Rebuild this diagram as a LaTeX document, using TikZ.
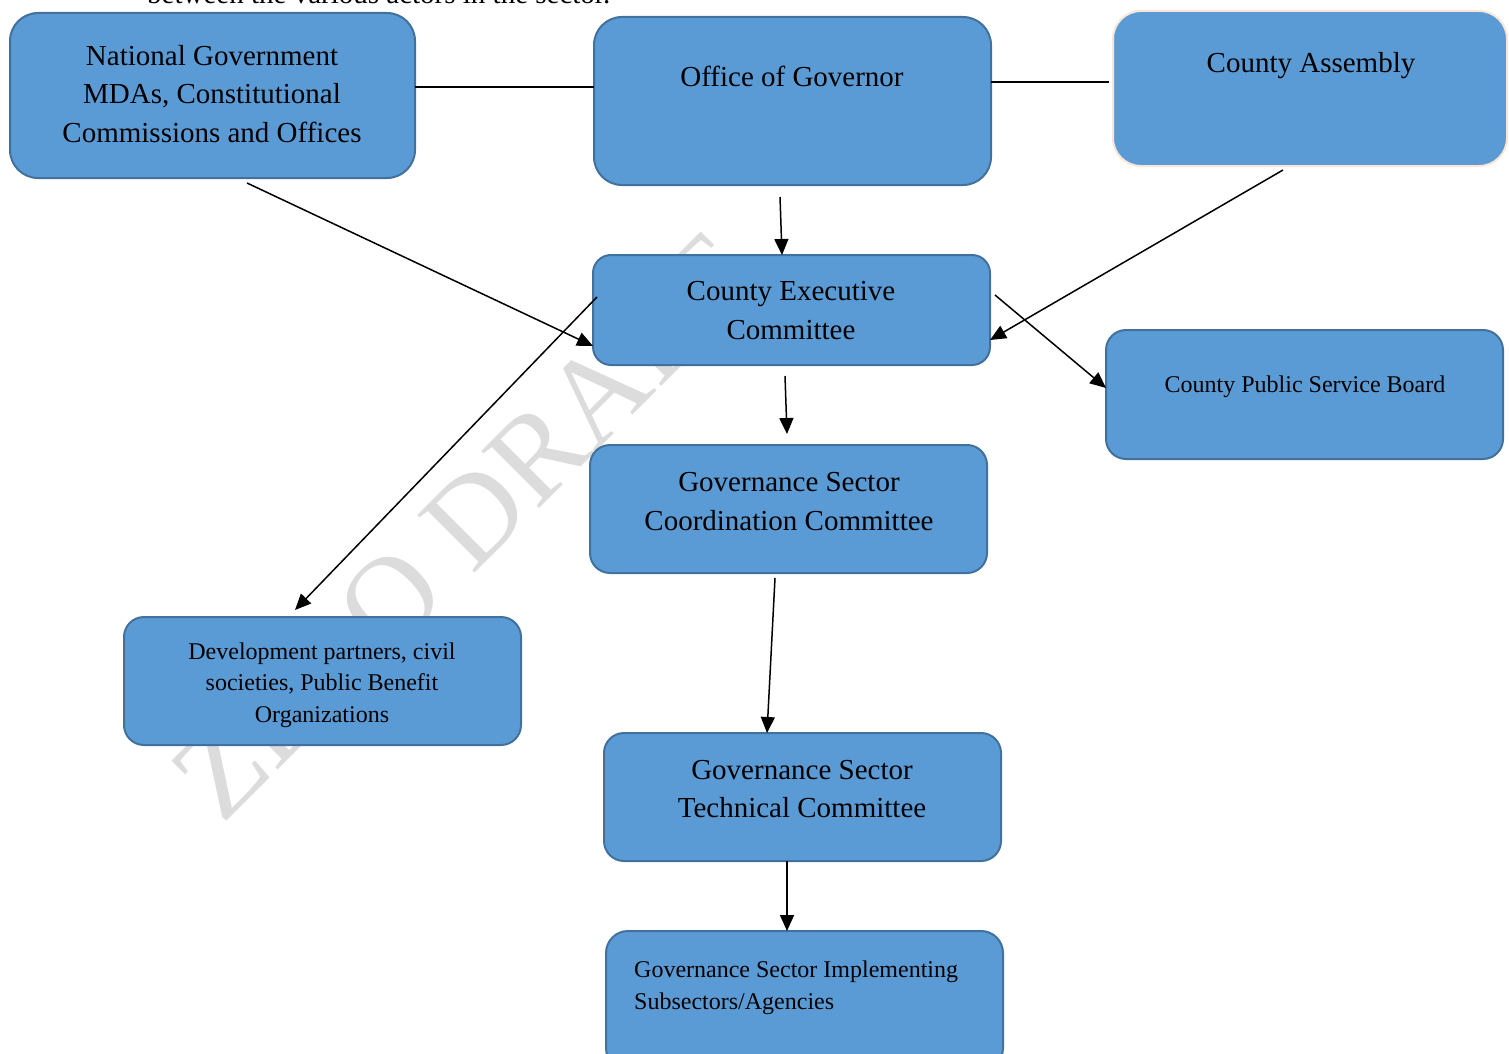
\documentclass[tikz,border=0pt]{standalone}
\usepackage{fontspec}
\setmainfont{Liberation Serif}
\usetikzlibrary{arrows.meta,calc}
\definecolor{boxfill}{HTML}{5B9BD5}
\definecolor{boxedge}{HTML}{41719C}
\definecolor{peach}{HTML}{FBE5D6}
\definecolor{wmark}{HTML}{DCDCDC}
\begin{document}
\begin{tikzpicture}[x=1pt,y=-1pt,
  box/.style={rectangle, draw=boxedge, fill=boxfill, line width=2pt, rounded corners=26pt, inner sep=0pt, outer sep=0pt, minimum width=397pt},
  bigtxt/.style={font=\fontsize{29}{38.5}\selectfont, align=center, inner sep=0pt},
  smalltxt/.style={font=\fontsize{24}{31.5}\selectfont, align=center, inner sep=0pt},
  conn/.style={line width=1.5pt, black},
  arr/.style={conn, -{Triangle[length=16pt,width=14pt]}}
]
\useasboundingbox (0,0) rectangle (1509,1054);
% watermark
\node[text=wmark, font=\fontsize{124}{124}\selectfont, rotate=45, inner sep=0pt, anchor=base west] (wm) at (222,826) {ZERO DRAFT};
% cut-off heading text
\node[anchor=base west, font=\fontsize{29}{34}\selectfont, inner sep=0pt] (head) at (147,4) {between the various actors in the sector.};
% boxes
\node[box, minimum width=405pt, minimum height=165pt, rounded corners=28pt] (nat) at (212.5,95.5) {};
\node[box, minimum height=168pt, rounded corners=28pt] (off) at (792.5,101) {};
\node[box, draw=peach, minimum width=394pt, minimum height=155pt, rounded corners=28pt] (ca) at (1310,88.5) {};
\node[box, minimum height=110pt, rounded corners=18pt] (cec) at (791.5,310) {};
\node[box, minimum height=129pt, rounded corners=20pt] (cpsb) at (1304.5,394.5) {};
\node[box, minimum height=128pt, rounded corners=20pt] (gscc) at (788.5,509) {};
\node[box, minimum height=128pt, rounded corners=20pt] (dev) at (322.5,681) {};
\node[box, minimum height=128pt, rounded corners=20pt] (gstc) at (802.5,797) {};
\node[box, minimum height=139pt, rounded corners=22pt] (gsisa) at (804.5,1000.5) {};
% texts
\node[bigtxt] (nat-t) at (212,94) {National Government\\MDAs, Constitutional\\Commissions and Offices};
\node[bigtxt] (off-t) at (792,76) {Office of Governor};
\node[bigtxt] (ca-t) at (1311,66) {County Assembly};
\node[bigtxt] (cec-t) at (791,310.5) {County Executive\\Committee};
\node[smalltxt] (cpsb-t) at (1305,387) {County Public Service Board};
\node[bigtxt] (gscc-t) at (789,501.5) {Governance Sector\\Coordination Committee};
\node[smalltxt] (dev-t) at (322,685) {Development partners, civil\\societies, Public Benefit\\Organizations};
\node[bigtxt] (gstc-t) at (802,789) {Governance Sector\\Technical Committee};
\node[smalltxt, align=left, anchor=west] (gsisa-t) at (634,988) {Governance Sector Implementing\\Subsectors/Agencies};
% free ends
\coordinate (s1) at (247,183);
\coordinate (s2) at (780,197);
\coordinate (s3) at (1283,170);
\coordinate (e4) at (295,610);
\coordinate (s5) at (995,295);
\coordinate (s6) at (785,376);
\coordinate (e6) at (787,434);
\coordinate (s7) at (775,578);
% connectors
\draw[conn] (nat.east |- 0,87) -- (off.west |- 0,87);
\draw[conn] (off.east |- 0,82) -- ($(ca.west |- 0,82)+(-4,0)$);
\draw[arr] (s1) -- (cec.west |- 0,346);
\draw[arr] (s2) -- (cec.north -| 782,0);
\draw[arr] (s3) -- (cec.east |- 0,340);
\draw[arr] ($(cec.west |- 0,297)+(4,0)$) -- (e4);
\draw[arr] (s5) -- (cpsb.west |- 0,388);
\draw[arr] (s6) -- (e6);
\draw[arr] (s7) -- (gstc.north -| 767,0);
\draw[arr] (gstc.south -| 787,0) -- (gsisa.north -| 787,0);
\end{tikzpicture}
\end{document}
